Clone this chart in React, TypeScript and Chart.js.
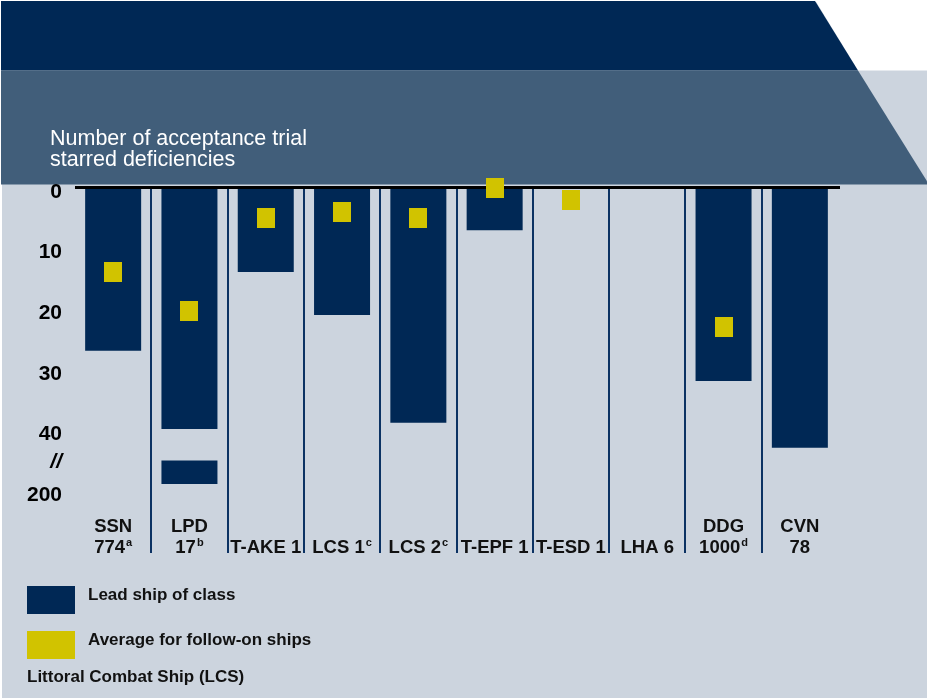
import { useEffect, useRef } from "react";
import { Chart, registerables } from "chart.js";

Chart.register(...registerables);

// ---- data ----
const shipClasses = ["SSN 774", "LPD 17", "T-AKE 1", "LCS 1", "LCS 2", "T-EPF 1", "T-ESD 1", "LHA 6", "DDG 1000", "CVN 78"];
const labelLines: string[][] = [["SSN", "774"], ["LPD", "17"], ["T-AKE 1"], ["LCS 1"], ["LCS 2"], ["T-EPF 1"], ["T-ESD 1"], ["LHA 6"], ["DDG", "1000"], ["CVN", "78"]];
const footnotes = ["a", "b", "", "c", "c", "", "", "", "d", ""];
const leadShip: (number | null)[] = [26.7, 39.6, 13.7, 20.8, 38.6, 6.8, null, null, 31.7, 42.7];
// LPD 17 part drawn beyond the axis break (axis units)
const leadShipBeyondBreak: ([number, number] | null)[] = [null, [44.8, 48.7], null, null, null, null, null, null, null, null];
const followOnAverage: (number | null)[] = [13.7, 20.1, 4.8, 3.8, 4.8, -0.2, 1.8, null, 22.8, null];
const yTickValues = [0, 10, 20, 30, 40, 44.6, 50];
const yTickLabels = ["0", "10", "20", "30", "40", "//", "200"];
const titleLines = ["Number of acceptance trial", "starred deficiencies"];
const legendLabels = ["Lead ship of class", "Average for follow-on ships"];
const noteText = "Littoral Combat Ship (LCS)";

// ---- styles ----
const NAVY = "#002855";
const SLATE = "#415e7a";
const GRAY = "#ccd4de";
const YELLOW = "#d1c300";
const DIVIDER = "#0b3263";
const FONT = "'Liberation Sans', Arial, sans-serif";

export default function App() {
  const ref = useRef<HTMLCanvasElement | null>(null);

  useEffect(() => {
    document.body.style.margin = "0";
    const canvas = ref.current!;
    const marker = document.createElement("canvas");
    marker.width = 18;
    marker.height = 20;
    const mctx = marker.getContext("2d")!;
    mctx.fillStyle = YELLOW;
    mctx.fillRect(0, 0, 18, 20);

    const backgroundPlugin = {
      id: "bg",
      beforeDraw(chart: any) {
        const ctx = chart.ctx;
        const W = chart.width;
        const H = chart.height;
        ctx.save();
        ctx.fillStyle = "#ffffff";
        ctx.fillRect(0, 0, W, H);
        ctx.fillStyle = GRAY;
        ctx.fillRect(2, 2, W - 2, H - 2);
        // white top-right corner
        ctx.fillStyle = "#ffffff";
        ctx.beginPath();
        ctx.moveTo(815, 0);
        ctx.lineTo(W, 0);
        ctx.lineTo(W, 70.5);
        ctx.lineTo(858, 70.5);
        ctx.closePath();
        ctx.fill();
        // navy band
        ctx.fillStyle = NAVY;
        ctx.beginPath();
        ctx.moveTo(1, 1);
        ctx.lineTo(815, 1);
        ctx.lineTo(858, 70.5);
        ctx.lineTo(1, 70.5);
        ctx.closePath();
        ctx.fill();
        // slate band
        ctx.fillStyle = SLATE;
        ctx.beginPath();
        ctx.moveTo(1, 70.5);
        ctx.lineTo(858, 70.5);
        ctx.lineTo(929, 184.5);
        ctx.lineTo(1, 184.5);
        ctx.closePath();
        ctx.fill();
        // title
        ctx.fillStyle = "#ffffff";
        ctx.font = `21.5px ${FONT}`;
        ctx.textAlign = "left";
        ctx.textBaseline = "alphabetic";
        ctx.fillText(titleLines[0], 50, 145);
        ctx.fillText(titleLines[1], 50, 166);
        ctx.restore();
      },
      beforeDatasetDraw(chart: any, args: any) {
        if (args.meta.type !== "line") return;
        const ctx = chart.ctx;
        const y0 = chart.scales.y.getPixelForValue(0);
        ctx.save();
        ctx.fillStyle = "#000000";
        ctx.fillRect(chart.chartArea.left, y0 - 3, chart.chartArea.right + 2 - chart.chartArea.left, 3);
        ctx.restore();
      },
      afterDraw(chart: any) {
        const ctx = chart.ctx;
        const xs = chart.scales.x;
        ctx.save();
        ctx.fillStyle = "#111111";
        ctx.textBaseline = "alphabetic";
        ctx.textAlign = "left";
        const base2 = xs.bottom;
        const base1 = base2 - 21;
        labelLines.forEach((lines, i) => {
          const cx = xs.getPixelForValue(i);
          lines.forEach((line, j) => {
            const isLast = j === lines.length - 1;
            const baseY = isLast ? base2 : base1;
            ctx.font = `bold 18.5px ${FONT}`;
            const w = ctx.measureText(line).width;
            let ws = 0;
            const sup = isLast ? footnotes[i] : "";
            if (sup) {
              ctx.font = `bold 11px ${FONT}`;
              ws = ctx.measureText(sup).width + 1;
            }
            const startX = cx - (w + ws) / 2;
            ctx.font = `bold 18.5px ${FONT}`;
            ctx.fillText(line, startX, baseY);
            if (sup) {
              ctx.font = `bold 11px ${FONT}`;
              ctx.fillText(sup, startX + w + 1, baseY - 7.5);
            }
          });
        });
        // legend
        const ds = chart.data.datasets;
        ctx.fillStyle = ds[0].backgroundColor;
        ctx.fillRect(27, 586, 48, 28);
        ctx.fillStyle = YELLOW;
        ctx.fillRect(27, 631, 48, 28);
        ctx.fillStyle = "#111111";
        ctx.font = `bold 17px ${FONT}`;
        ctx.fillText(legendLabels[0], 88, 600);
        ctx.fillText(legendLabels[1], 88, 645);
        ctx.fillText(noteText, 27, 682);
        ctx.restore();
      },
    };

    const chart = new Chart(canvas, {
      type: "bar",
      data: {
        labels: shipClasses,
        datasets: [
          {
            type: "bar",
            label: legendLabels[0],
            data: leadShip,
            backgroundColor: NAVY,
            barPercentage: 0.734,
            categoryPercentage: 1,
            grouped: false,
            order: 2,
          },
          {
            type: "bar",
            label: legendLabels[0] + " (beyond break)",
            data: leadShipBeyondBreak as any,
            backgroundColor: NAVY,
            barPercentage: 0.734,
            categoryPercentage: 1,
            grouped: false,
            order: 1,
          },
          {
            type: "line",
            label: legendLabels[1],
            data: followOnAverage,
            showLine: false,
            clip: false,
            pointStyle: marker as any,
            pointRadius: 10,
            pointHoverRadius: 10,
            backgroundColor: YELLOW,
            borderColor: YELLOW,
            order: 0,
          } as any,
        ],
      },
      options: {
        responsive: false,
        animation: false,
        events: [],
        layout: { padding: { top: 189, left: 0, right: 89, bottom: 145 } },
        plugins: {
          legend: { display: false },
          tooltip: { enabled: false },
          title: { display: false },
        },
        scales: {
          x: {
            type: "category",
            offset: true,
            border: { display: false },
            grid: {
              offset: true,
              drawOnChartArea: true,
              drawTicks: true,
              tickLength: 49,
              lineWidth: 2,
              color: (c: any) => (typeof c.index === "number" && c.index >= 1 && c.index <= 9 ? DIVIDER : "rgba(0,0,0,0)"),
            },
            ticks: { display: false },
          },
          y: {
            type: "linear",
            reverse: true,
            min: 0,
            max: 52,
            border: { display: false },
            grid: { display: false, drawTicks: false },
            afterFit: (s: any) => {
              s.width = 75;
            },
            afterBuildTicks: (s: any) => {
              s.ticks = yTickValues.map((v) => ({ value: v }));
            },
            ticks: {
              padding: 13,
              labelOffset: 3,
              color: "#000000",
              autoSkip: false,
              font: (c: any) => ({
                family: FONT,
                size: 21,
                weight: "bold",
                style: c.index === 5 ? "italic" : "normal",
              }),
              callback: (_v: any, i: number) => yTickLabels[i],
            },
          },
        },
      },
      plugins: [backgroundPlugin],
    });
    return () => chart.destroy();
  }, []);

  return <canvas ref={ref} width={927} height={698} style={{ display: "block" }} />;
}
